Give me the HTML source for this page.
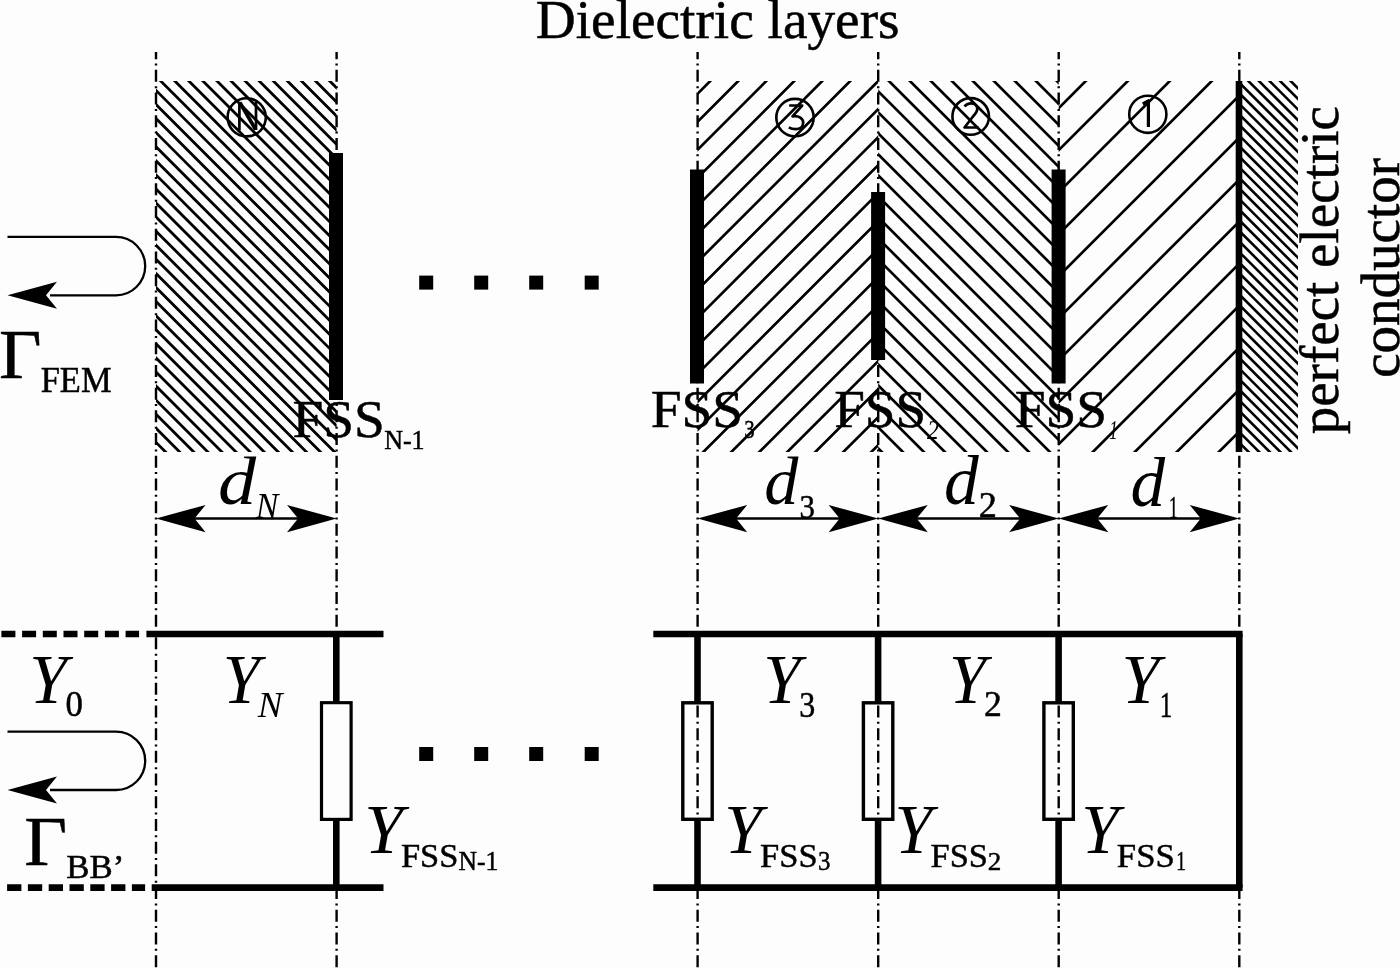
<!DOCTYPE html><html><head><meta charset="utf-8"><style>html,body{margin:0;padding:0;background:#fdfdfd;}svg{display:block;will-change:transform}</style></head><body><svg width="1400" height="968" viewBox="0 0 1400 968">
<rect width="1400" height="968" fill="#fdfdfd"/>
<clipPath id="cN"><rect x="156" y="81" width="180.60000000000002" height="371"/></clipPath>
<path clip-path="url(#cN)" stroke="#000" stroke-width="2.8" fill="none" d="M-238.54 76L142.46 457M-224.46 76L156.54 457M-210.38 76L170.62 457M-196.30 76L184.70 457M-182.22 76L198.78 457M-168.14 76L212.86 457M-154.06 76L226.94 457M-139.98 76L241.02 457M-125.90 76L255.10 457M-111.82 76L269.18 457M-97.74 76L283.26 457M-83.66 76L297.34 457M-69.58 76L311.42 457M-55.50 76L325.50 457M-41.42 76L339.58 457M-27.34 76L353.66 457M-13.26 76L367.74 457M0.82 76L381.82 457M14.90 76L395.90 457M28.98 76L409.98 457M43.06 76L424.06 457M57.14 76L438.14 457M71.22 76L452.22 457M85.30 76L466.30 457M99.38 76L480.38 457M113.46 76L494.46 457M127.54 76L508.54 457M141.62 76L522.62 457M155.70 76L536.70 457M169.78 76L550.78 457M183.86 76L564.86 457M197.94 76L578.94 457M212.02 76L593.02 457M226.10 76L607.10 457M240.18 76L621.18 457M254.26 76L635.26 457M268.34 76L649.34 457M282.42 76L663.42 457M296.50 76L677.50 457M310.58 76L691.58 457M324.66 76L705.66 457M338.74 76L719.74 457M352.82 76L733.82 457"/>
<clipPath id="c3"><rect x="697.6" y="81" width="180.60000000000002" height="371"/></clipPath>
<path clip-path="url(#c3)" stroke="#000" stroke-width="2.7" fill="none" d="M659.30 76L278.30 457M687.30 76L306.30 457M715.30 76L334.30 457M743.30 76L362.30 457M771.30 76L390.30 457M799.30 76L418.30 457M827.30 76L446.30 457M855.30 76L474.30 457M883.30 76L502.30 457M911.30 76L530.30 457M939.30 76L558.30 457M967.30 76L586.30 457M995.30 76L614.30 457M1023.30 76L642.30 457M1051.30 76L670.30 457M1079.30 76L698.30 457M1107.30 76L726.30 457M1135.30 76L754.30 457M1163.30 76L782.30 457M1191.30 76L810.30 457M1219.30 76L838.30 457M1247.30 76L866.30 457M1275.30 76L894.30 457M1303.30 76L922.30 457"/>
<clipPath id="c2"><rect x="878.2" y="81" width="180.5" height="371"/></clipPath>
<path clip-path="url(#c2)" stroke="#000" stroke-width="2.7" fill="none" d="M463.90 76L844.90 457M484.90 76L865.90 457M505.90 76L886.90 457M526.90 76L907.90 457M547.90 76L928.90 457M568.90 76L949.90 457M589.90 76L970.90 457M610.90 76L991.90 457M631.90 76L1012.90 457M652.90 76L1033.90 457M673.90 76L1054.90 457M694.90 76L1075.90 457M715.90 76L1096.90 457M736.90 76L1117.90 457M757.90 76L1138.90 457M778.90 76L1159.90 457M799.90 76L1180.90 457M820.90 76L1201.90 457M841.90 76L1222.90 457M862.90 76L1243.90 457M883.90 76L1264.90 457M904.90 76L1285.90 457M925.90 76L1306.90 457M946.90 76L1327.90 457M967.90 76L1348.90 457M988.90 76L1369.90 457M1009.90 76L1390.90 457M1030.90 76L1411.90 457M1051.90 76L1432.90 457M1072.90 76L1453.90 457M1093.90 76L1474.90 457"/>
<clipPath id="c1"><rect x="1058.7" y="81" width="180.5999999999999" height="371"/></clipPath>
<path clip-path="url(#c1)" stroke="#000" stroke-width="2.7" fill="none" d="M1006.80 76L625.80 457M1048.80 76L667.80 457M1090.80 76L709.80 457M1132.80 76L751.80 457M1174.80 76L793.80 457M1216.80 76L835.80 457M1258.80 76L877.80 457M1300.80 76L919.80 457M1342.80 76L961.80 457M1384.80 76L1003.80 457M1426.80 76L1045.80 457M1468.80 76L1087.80 457M1510.80 76L1129.80 457M1552.80 76L1171.80 457M1594.80 76L1213.80 457M1636.80 76L1255.80 457M1678.80 76L1297.80 457"/>
<clipPath id="cP"><rect x="1242" y="81" width="56" height="371"/></clipPath>
<path clip-path="url(#cP)" stroke="#000" stroke-width="2.6" fill="none" d="M851.47 76L1232.47 457M862.06 76L1243.06 457M872.65 76L1253.65 457M883.24 76L1264.24 457M893.83 76L1274.83 457M904.42 76L1285.42 457M915.01 76L1296.01 457M925.60 76L1306.60 457M936.19 76L1317.19 457M946.78 76L1327.78 457M957.37 76L1338.37 457M967.96 76L1348.96 457M978.55 76L1359.55 457M989.14 76L1370.14 457M999.73 76L1380.73 457M1010.32 76L1391.32 457M1020.91 76L1401.91 457M1031.50 76L1412.50 457M1042.09 76L1423.09 457M1052.68 76L1433.68 457M1063.27 76L1444.27 457M1073.86 76L1454.86 457M1084.45 76L1465.45 457M1095.04 76L1476.04 457M1105.63 76L1486.63 457M1116.22 76L1497.22 457M1126.81 76L1507.81 457M1137.40 76L1518.40 457M1147.99 76L1528.99 457M1158.58 76L1539.58 457M1169.17 76L1550.17 457M1179.76 76L1560.76 457M1190.35 76L1571.35 457M1200.94 76L1581.94 457M1211.53 76L1592.53 457M1222.12 76L1603.12 457M1232.71 76L1613.71 457M1243.30 76L1624.30 457M1253.89 76L1634.89 457M1264.48 76L1645.48 457M1275.07 76L1656.07 457M1285.66 76L1666.66 457M1296.25 76L1677.25 457M1306.84 76L1687.84 457"/>
<line x1="156" y1="52" x2="156" y2="968" stroke="#000" stroke-width="2.4" stroke-dasharray="12.0 4.35 2.0 4.35" stroke-dashoffset="4.85"/>
<line x1="336.6" y1="52" x2="336.6" y2="968" stroke="#000" stroke-width="2.4" stroke-dasharray="12.0 4.35 2.0 4.35" stroke-dashoffset="4.85"/>
<line x1="697.6" y1="52" x2="697.6" y2="968" stroke="#000" stroke-width="2.4" stroke-dasharray="12.0 4.35 2.0 4.35" stroke-dashoffset="4.85"/>
<line x1="878.2" y1="52" x2="878.2" y2="968" stroke="#000" stroke-width="2.4" stroke-dasharray="12.0 4.35 2.0 4.35" stroke-dashoffset="4.85"/>
<line x1="1058.7" y1="52" x2="1058.7" y2="968" stroke="#000" stroke-width="2.4" stroke-dasharray="12.0 4.35 2.0 4.35" stroke-dashoffset="4.85"/>
<line x1="1239.3" y1="52" x2="1239.3" y2="968" stroke="#000" stroke-width="2.4" stroke-dasharray="12.0 4.35 2.0 4.35" stroke-dashoffset="4.85"/>
<rect x="329.0" y="153" width="14" height="247" fill="#000"/>
<rect x="690.0" y="169.5" width="14" height="214.0" fill="#000"/>
<rect x="871.1" y="192" width="14" height="168" fill="#000"/>
<rect x="1051.6" y="169.5" width="14" height="214.0" fill="#000"/>
<rect x="1235.7" y="81" width="6.6" height="371" fill="#000"/>
<circle cx="246.7" cy="117.3" r="19.1" fill="none" stroke="#000" stroke-width="2.6"/>
<circle cx="795" cy="117.6" r="18.7" fill="none" stroke="#000" stroke-width="2.6"/>
<circle cx="970.7" cy="116.4" r="18.3" fill="none" stroke="#000" stroke-width="2.6"/>
<circle cx="1147.8" cy="114.3" r="18.6" fill="none" stroke="#000" stroke-width="2.6"/>
<rect x="419.2" y="275.6" width="14" height="14" fill="#000"/>
<rect x="474.2" y="275.6" width="14" height="14" fill="#000"/>
<rect x="529.2" y="275.6" width="14" height="14" fill="#000"/>
<rect x="584.7" y="275.6" width="14" height="14" fill="#000"/>
<rect x="419.2" y="747" width="14" height="14" fill="#000"/>
<rect x="474.2" y="747" width="14" height="14" fill="#000"/>
<rect x="529.2" y="747" width="14" height="14" fill="#000"/>
<rect x="584.7" y="747" width="14" height="14" fill="#000"/>
<path d="M7.5 236.90000000000003H116A29.2 29.2 0 0 1 116 295.3H50" fill="none" stroke="#000" stroke-width="2.3"/>
<path d="M7.5 295.3L57 281.8L46 295.3L57 308.8Z" fill="#000"/>
<path d="M7.5 731.5999999999999H116A29.2 29.2 0 0 1 116 790.0H50" fill="none" stroke="#000" stroke-width="2.3"/>
<path d="M7.5 790.0L57 776.5L46 790.0L57 803.5Z" fill="#000"/>
<line x1="176" y1="518.6" x2="316.6" y2="518.6" stroke="#000" stroke-width="2.5"/>
<path d="M156 518.6L205.6 504.90000000000003L194.5 518.6L205.6 532.3000000000001Z" fill="#000"/>
<path d="M336.6 518.6L287.0 504.90000000000003L298.1 518.6L287.0 532.3000000000001Z" fill="#000"/>
<line x1="717.6" y1="518.6" x2="858.2" y2="518.6" stroke="#000" stroke-width="2.5"/>
<path d="M697.6 518.6L747.2 504.90000000000003L736.1 518.6L747.2 532.3000000000001Z" fill="#000"/>
<path d="M878.2 518.6L828.6 504.90000000000003L839.7 518.6L828.6 532.3000000000001Z" fill="#000"/>
<line x1="898.2" y1="518.6" x2="1038.7" y2="518.6" stroke="#000" stroke-width="2.5"/>
<path d="M878.2 518.6L927.8000000000001 504.90000000000003L916.7 518.6L927.8000000000001 532.3000000000001Z" fill="#000"/>
<path d="M1058.7 518.6L1009.1 504.90000000000003L1020.2 518.6L1009.1 532.3000000000001Z" fill="#000"/>
<line x1="1078.7" y1="518.6" x2="1219.3" y2="518.6" stroke="#000" stroke-width="2.5"/>
<path d="M1058.7 518.6L1108.3 504.90000000000003L1097.2 518.6L1108.3 532.3000000000001Z" fill="#000"/>
<path d="M1239.3 518.6L1189.7 504.90000000000003L1200.8 518.6L1189.7 532.3000000000001Z" fill="#000"/>
<g stroke="#000" stroke-width="6.6" fill="none">
<line x1="146.4" y1="634" x2="383.5" y2="634"/>
<line x1="151.7" y1="887.6" x2="383.5" y2="887.6"/>
<line x1="653.3" y1="634" x2="1242.6" y2="634"/>
<line x1="653.3" y1="887.6" x2="1242.6" y2="887.6"/>
<line x1="1239.3" y1="634" x2="1239.3" y2="887.6"/>
</g>
<line x1="1.4" y1="634" x2="139.1" y2="634" stroke="#000" stroke-width="6.6" stroke-dasharray="14 6.7"/>
<line x1="7.1" y1="887.6" x2="145.1" y2="887.6" stroke="#000" stroke-width="6.6" stroke-dasharray="14.3 6.5"/>
<line x1="336.3" y1="634" x2="336.3" y2="702.8" stroke="#000" stroke-width="6.6"/>
<line x1="336.3" y1="819.3" x2="336.3" y2="887.6" stroke="#000" stroke-width="6.6"/>
<rect x="321.6" y="702.8" width="29.4" height="116.5" fill="#fdfdfd" fill-opacity="0" stroke="#000" stroke-width="3.4"/>
<line x1="697.5" y1="634" x2="697.5" y2="702.8" stroke="#000" stroke-width="6.6"/>
<line x1="697.5" y1="819.3" x2="697.5" y2="887.6" stroke="#000" stroke-width="6.6"/>
<rect x="682.8" y="702.8" width="29.4" height="116.5" fill="#fdfdfd" fill-opacity="0" stroke="#000" stroke-width="3.4"/>
<line x1="878.1" y1="634" x2="878.1" y2="702.8" stroke="#000" stroke-width="6.6"/>
<line x1="878.1" y1="819.3" x2="878.1" y2="887.6" stroke="#000" stroke-width="6.6"/>
<rect x="863.4" y="702.8" width="29.4" height="116.5" fill="#fdfdfd" fill-opacity="0" stroke="#000" stroke-width="3.4"/>
<line x1="1058.6" y1="634" x2="1058.6" y2="702.8" stroke="#000" stroke-width="6.6"/>
<line x1="1058.6" y1="819.3" x2="1058.6" y2="887.6" stroke="#000" stroke-width="6.6"/>
<rect x="1043.8999999999999" y="702.8" width="29.4" height="116.5" fill="#fdfdfd" fill-opacity="0" stroke="#000" stroke-width="3.4"/>
<rect x="323.3" y="704.5" width="26" height="113" fill="#fdfdfd"/>
<text transform="matrix(1.0053 0 0 1.0053 535.84 37.85)" font-family="Liberation Serif" font-size="55" stroke="#000" stroke-width="0.5">Dielectric layers</text>
<text transform="matrix(1.0262 0 0 0.9932 292.42 436.66)" font-family="Liberation Serif" font-size="54" stroke="#000" stroke-width="0.5">FSS</text>
<text transform="matrix(0.9293 0 0 0.9947 384.14 448.65)" font-family="Liberation Serif" font-size="28" stroke="#000" stroke-width="0.5">N-1</text>
<text transform="matrix(1.0262 0 0 0.9932 650.72 426.76)" font-family="Liberation Serif" font-size="54" stroke="#000" stroke-width="0.5">FSS</text>
<text transform="matrix(0.8000 0 0 1.0000 744.20 438.00)" font-family="Liberation Serif" font-size="26" stroke="#000" stroke-width="0.5">3</text>
<text transform="matrix(1.0204 0 0 0.9878 834.22 426.76)" font-family="Liberation Serif" font-size="54" stroke="#000" stroke-width="0.5">FSS</text>
<text transform="matrix(0.9200 0 0 1.0725 927.00 438.50)" font-family="Liberation Serif" font-size="26" font-style="italic" stroke="#000" stroke-width="0.0">2</text>
<text transform="matrix(1.0262 0 0 0.9932 1014.72 426.76)" font-family="Liberation Serif" font-size="54" stroke="#000" stroke-width="0.5">FSS</text>
<text transform="matrix(0.6486 0 0 1.0435 1109.35 438.50)" font-family="Liberation Serif" font-size="26" font-style="italic" stroke="#000" stroke-width="0.0">1</text>
<text transform="matrix(1.0503 0 0 1.0011 -0.94 377.65)" font-family="Liberation Serif" font-size="70" stroke="#000" stroke-width="0.5">&#915;</text>
<text transform="matrix(0.9858 0 0 1.0128 40.66 391.65)" font-family="Liberation Serif" font-size="35" stroke="#000" stroke-width="0.5">FEM</text>
<text transform="matrix(1.0585 0 0 1.0011 24.15 865.15)" font-family="Liberation Serif" font-size="70" stroke="#000" stroke-width="0.5">&#915;</text>
<text transform="matrix(1.0245 0 0 0.9696 66.33 878.36)" font-family="Liberation Serif" font-size="34" stroke="#000" stroke-width="0.5">BB&#8217;</text>
<text transform="matrix(1.0887 0 0 0.9746 218.02 504.27)" font-family="Liberation Serif" font-size="70" font-style="italic" stroke="#000" stroke-width="0.0">d</text>
<text transform="matrix(0.9959 0 0 1.0247 255.85 518.40)" font-family="Liberation Serif" font-size="34" font-style="italic" stroke="#000" stroke-width="0.0">N</text>
<text transform="matrix(0.9746 0 0 0.9746 764.15 504.27)" font-family="Liberation Serif" font-size="70" font-style="italic" stroke="#000" stroke-width="0.0">d</text>
<text transform="matrix(0.9103 0 0 0.9849 799.43 517.71)" font-family="Liberation Serif" font-size="34" stroke="#000" stroke-width="0.5">3</text>
<text transform="matrix(0.9929 0 0 0.9929 944.11 503.76)" font-family="Liberation Serif" font-size="70" font-style="italic" stroke="#000" stroke-width="0.0">d</text>
<text transform="matrix(1.0643 0 0 1.0261 978.67 517.14)" font-family="Liberation Serif" font-size="34" stroke="#000" stroke-width="0.5">2</text>
<text transform="matrix(0.9888 0 0 0.9888 1130.42 506.26)" font-family="Liberation Serif" font-size="70" font-style="italic" stroke="#000" stroke-width="0.0">d</text>
<text transform="matrix(0.5280 0 0 0.9261 1168.95 517.77)" font-family="Liberation Serif" font-size="34" stroke="#000" stroke-width="0.5">1</text>
<text transform="matrix(0.9756 0 0 0.9945 29.20 702.60)" font-family="Liberation Serif" font-size="70" font-style="italic" stroke="#000" stroke-width="0.0">Y</text>
<text transform="matrix(0.9935 0 0 1.0000 65.61 716.30)" font-family="Liberation Serif" font-size="35" stroke="#000" stroke-width="0.5">0</text>
<text transform="matrix(0.9585 0 0 1.0055 222.87 702.70)" font-family="Liberation Serif" font-size="70" font-style="italic" stroke="#000" stroke-width="0.0">Y</text>
<text transform="matrix(1.0898 0 0 1.0787 257.87 717.00)" font-family="Liberation Serif" font-size="34" font-style="italic" stroke="#000" stroke-width="0.0">N</text>
<text transform="matrix(0.9634 0 0 1.0055 763.35 702.70)" font-family="Liberation Serif" font-size="70" font-style="italic" stroke="#000" stroke-width="0.0">Y</text>
<text transform="matrix(0.9153 0 0 1.0000 799.23 716.50)" font-family="Liberation Serif" font-size="35" stroke="#000" stroke-width="0.5">3</text>
<text transform="matrix(0.9561 0 0 1.0055 948.88 702.70)" font-family="Liberation Serif" font-size="70" font-style="italic" stroke="#000" stroke-width="0.0">Y</text>
<text transform="matrix(1.0207 0 0 0.9979 983.92 716.45)" font-family="Liberation Serif" font-size="35" stroke="#000" stroke-width="0.5">2</text>
<text transform="matrix(0.9805 0 0 1.0055 1121.38 702.70)" font-family="Liberation Serif" font-size="70" font-style="italic" stroke="#000" stroke-width="0.0">Y</text>
<text transform="matrix(0.7154 0 0 1.0298 1159.63 716.74)" font-family="Liberation Serif" font-size="35" stroke="#000" stroke-width="0.5">1</text>
<text transform="matrix(0.9989 0 0 0.9989 364.20 853.40)" font-family="Liberation Serif" font-size="70" font-style="italic" stroke="#000" stroke-width="0.0">Y</text>
<text transform="matrix(0.9848 0 0 0.9542 400.96 867.02)" font-family="Liberation Serif" font-size="35" stroke="#000" stroke-width="0.5">FSS</text>
<text transform="matrix(0.9126 0 0 0.9632 458.44 869.76)" font-family="Liberation Serif" font-size="28" stroke="#000" stroke-width="0.5">N-1</text>
<text transform="matrix(0.9683 0 0 0.9923 724.23 853.40)" font-family="Liberation Serif" font-size="70" font-style="italic" stroke="#000" stroke-width="0.0">Y</text>
<text transform="matrix(0.9848 0 0 0.9792 760.06 867.21)" font-family="Liberation Serif" font-size="35" stroke="#000" stroke-width="0.5">FSS</text>
<text transform="matrix(0.8898 0 0 0.9662 817.91 870.22)" font-family="Liberation Serif" font-size="28" stroke="#000" stroke-width="0.5">3</text>
<text transform="matrix(0.9707 0 0 0.9923 894.42 853.40)" font-family="Liberation Serif" font-size="70" font-style="italic" stroke="#000" stroke-width="0.0">Y</text>
<text transform="matrix(0.9830 0 0 0.9792 930.56 867.21)" font-family="Liberation Serif" font-size="35" stroke="#000" stroke-width="0.5">FSS</text>
<text transform="matrix(0.9702 0 0 0.9263 987.83 869.87)" font-family="Liberation Serif" font-size="28" stroke="#000" stroke-width="0.5">2</text>
<text transform="matrix(0.9634 0 0 0.9923 1081.25 853.40)" font-family="Liberation Serif" font-size="70" font-style="italic" stroke="#000" stroke-width="0.0">Y</text>
<text transform="matrix(0.9919 0 0 0.9792 1116.86 867.21)" font-family="Liberation Serif" font-size="35" stroke="#000" stroke-width="0.5">FSS</text>
<text transform="matrix(0.6829 0 0 0.9842 1176.16 870.45)" font-family="Liberation Serif" font-size="28" stroke="#000" stroke-width="0.5">1</text>
<text transform="translate(1338.3 434.3) rotate(-90)" font-size="55" font-family="Liberation Serif" stroke="#000" stroke-width="0.5">perfect electric</text>
<text transform="translate(1398.6 377.8) rotate(-90)" font-size="55" font-family="Liberation Serif" stroke="#000" stroke-width="0.5">conductor</text>
<g fill="none" stroke="#000" stroke-width="2.7" stroke-linejoin="round" stroke-linecap="butt">
<path d="M239.4 130.5V102.5"/><path d="M256 130V101.5"/><path d="M239.8 102.5L255.6 129.5" stroke-width="3.6"/>
<path d="M789.2 105.5H802.2L792.5 116.3C799 115.2 803.2 118.6 803.2 122.6C803.2 126.8 799.8 129.2 795.8 129.2C792.6 129.2 790.4 128.4 788.8 127.4"/>
<path d="M964.5 106.5C966 104.5 968.5 103.3 971 103.3C974.5 103.3 977.3 105.6 977.3 108.8C977.3 111.5 975.5 113.8 973 116.5L964.5 127.5H978.5"/>
<path d="M1142.8 104L1148.4 100.8V127" stroke-width="3.2"/>
</g>
</svg></body></html>
